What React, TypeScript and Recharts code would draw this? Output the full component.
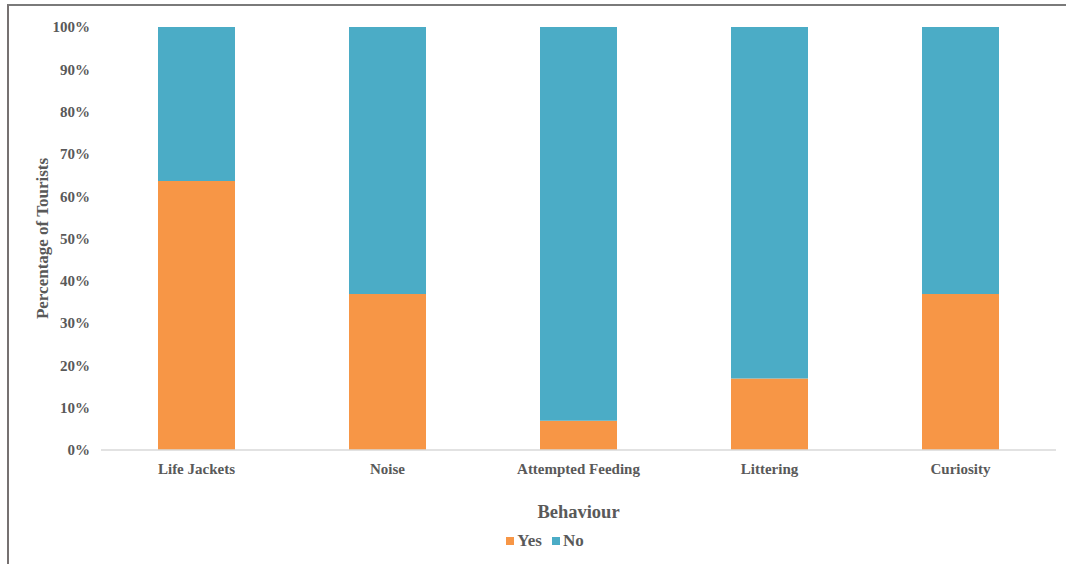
import React from 'react';
import { BarChart, Bar, XAxis, YAxis, Legend } from 'recharts';

const behaviours = ['Life Jackets', 'Noise', 'Attempted Feeding', 'Littering', 'Curiosity'];
const yesShare = [63.6, 36.9, 6.9, 16.9, 36.9];
const noShare = [36.4, 63.1, 93.1, 83.1, 63.1];
const percentTicks = [0, 10, 20, 30, 40, 50, 60, 70, 80, 90, 100];

const ORANGE = '#F79646';
const BLUE = '#4BACC6';
const TEXT = '#595959';
const FONT = '"Liberation Serif", "Times New Roman", serif';

const chartData = behaviours.map((name, i) => ({
  name,
  yes: yesShare[i],
  no: noShare[i],
}));

function LegendRow() {
  const items = [
    { label: 'Yes', color: ORANGE },
    { label: 'No', color: BLUE },
  ];
  return (
    <div style={{ display: 'flex', justifyContent: 'center', gap: 10, fontFamily: FONT, fontWeight: 'bold', fontSize: 17, color: TEXT }}>
      {items.map((it) => (
        <span key={it.label} style={{ display: 'flex', alignItems: 'center' }}>
          <span style={{ width: 8, height: 8, background: it.color, display: 'inline-block', marginRight: 3 }} />
          {it.label}
        </span>
      ))}
    </div>
  );
}

export default function App() {
  return (
    <div style={{ position: 'absolute', left: 0, top: 0, width: 1066, height: 564, background: '#fff', overflow: 'hidden' }}>
      <div
        style={{
          position: 'absolute',
          left: 7,
          top: 4,
          width: 1066,
          height: 600,
          borderTop: '2px solid #7a7a7a',
          borderLeft: '2px solid #767171',
        }}
      />
      <BarChart
        width={1066}
        height={564}
        data={chartData}
        margin={{ top: 27, right: 10, left: 8, bottom: 44 }}
        barSize={77}
      >
        <XAxis
          dataKey="name"
          height={70}
          tickLine={false}
          axisLine={{ stroke: '#D9D9D9', strokeWidth: 1.5 }}
          tickSize={0}
          tickMargin={13}
          tick={{ fontFamily: FONT, fontWeight: 'bold', fontSize: 15, fill: TEXT }}
          label={{
            value: 'Behaviour',
            position: 'insideBottom',
            offset: 2,
            style: { fontFamily: FONT, fontWeight: 'bold', fontSize: 18.5, fill: TEXT },
          }}
        />
        <YAxis
          width={93}
          domain={[0, 100]}
          ticks={percentTicks}
          tickFormatter={(v: number) => `${v}%`}
          axisLine={false}
          tickLine={false}
          tickSize={0}
          tickMargin={11}
          interval={0}
          tick={{ fontFamily: FONT, fontWeight: 'bold', fontSize: 15, fill: TEXT }}
          label={{
            value: 'Percentage of Tourists',
            angle: -90,
            position: 'insideLeft',
            offset: 34,
            style: { fontFamily: FONT, fontWeight: 'bold', fontSize: 17, fill: TEXT, textAnchor: 'middle' },
          }}
        />
        <Legend
          layout="horizontal"
          verticalAlign="middle"
          align="center"
          content={() => <LegendRow />}
          wrapperStyle={{ top: 531, left: 0, width: 1090 }}
        />
        <Bar dataKey="yes" name="Yes" stackId="a" fill={ORANGE} isAnimationActive={false} />
        <Bar dataKey="no" name="No" stackId="a" fill={BLUE} isAnimationActive={false} />
      </BarChart>
    </div>
  );
}
